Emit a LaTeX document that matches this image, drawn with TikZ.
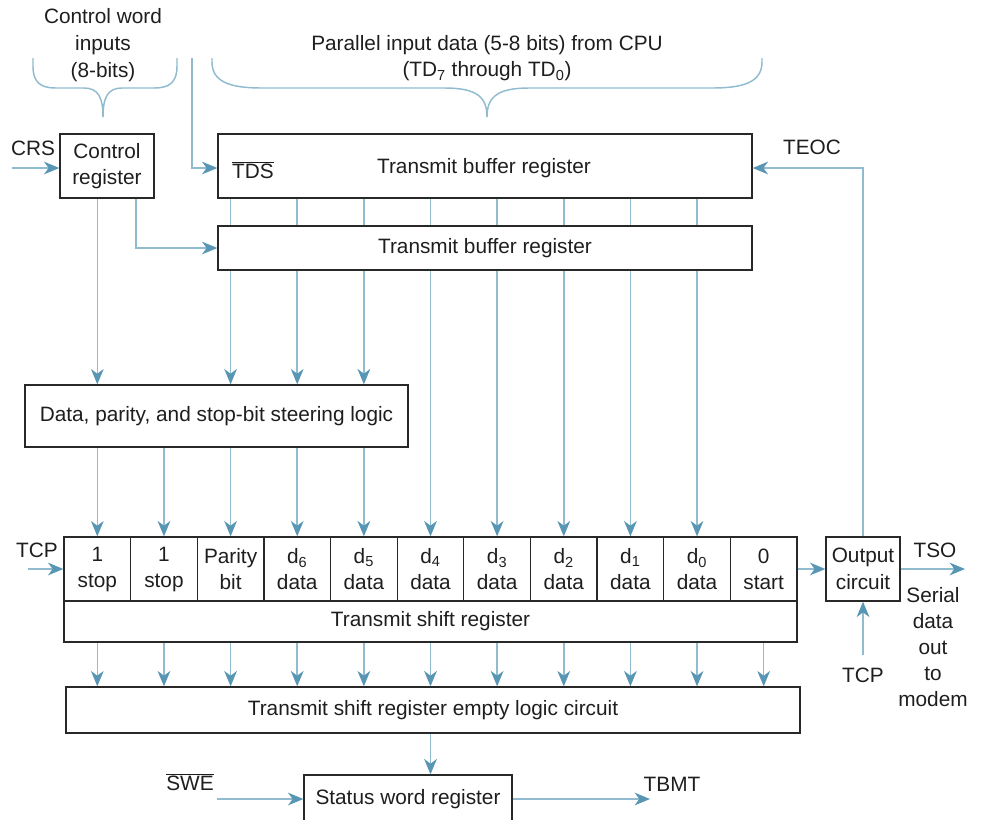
\documentclass[tikz,border=0pt]{standalone}
\usepackage{fontspec}
\setmainfont{Liberation Sans}
\usetikzlibrary{arrows.meta,calc}
\definecolor{linec}{RGB}{145,188,208}
\definecolor{arrc}{RGB}{88,150,180}
\definecolor{boxc}{RGB}{40,40,40}
\definecolor{txtc}{RGB}{30,30,30}
\newcommand\fsz{\fontsize{15.6}{20}\selectfont}
\begin{document}
\begin{tikzpicture}[x=0.75pt,y=-0.75pt,
  every node/.style={font=\fsz, text=txtc, inner sep=0pt, align=center},
  box/.style={draw=boxc, line width=1pt},
  sz/.style 2 args={minimum width=#1*0.75pt, minimum height=#2*0.75pt},
  conn/.style={draw=linec, line width=1.1pt},
  arr/.style={conn, -{Stealth[length=11.5pt,width=9.5pt,inset=3.5pt,color=arrc]}},
  brace/.style={draw=linec, line width=1.1pt}]
\useasboundingbox (0,0) rectangle (981,819);
\clip (0,0) rectangle (981,819);

% ---- boxes
\node[box,sz={94}{64}] (ctrl) at (107,166) {Control\\register};
\node[box,sz={534}{64}] (tb1) at (485,166) {};
\node (tb1t) at (484,168) {Transmit buffer register};
\node (tds) at (253,170) {$\overline{\hbox{TDS}}$};
\node[box,sz={534}{44}] (tb2) at (485,248) {Transmit buffer register};
\node[box,sz={383}{62}] (steer) at (216.5,416) {Data, parity, and stop-bit steering logic};

\foreach \i/\t in {1/{1\\stop},2/{1\\stop},3/{Parity\\bit},4/{d\textsubscript{6}\\data},
  5/{d\textsubscript{5}\\data},6/{d\textsubscript{4}\\data},7/{d\textsubscript{3}\\data},
  8/{d\textsubscript{2}\\data},9/{d\textsubscript{1}\\data},10/{d\textsubscript{0}\\data},11/{0\\start}}
  \node[box,sz={66.64}{64},font=\fontsize{15.6}{19.5}\selectfont] (c\i) at ({64+(\i-0.5)*66.636},569) {\t};
\node[box,sz={733}{41}] (tsr) at (430.5,621.5) {Transmit shift register};
\node[box,sz={74}{64}] (outc) at (863,569) {Output\\circuit};
\node[box,sz={734}{46}] (empty) at (433,710) {Transmit shift register empty logic circuit};
\node[box,sz={208}{48}] (stat) at (408,799) {Status word register};

% ---- labels
\node (cwi) at (103,45) {Control word\\inputs\\(8-bits)};
\node (pid) at (487,58) {Parallel input data (5-8 bits) from CPU\\(TD\textsubscript{7} through TD\textsubscript{0})};
\node (crs) at (33,148) {CRS};
\node (teoc) at (812,147) {TEOC};
\node (tcpl) at (37,550) {TCP};
\node (tso) at (935,550) {TSO};
\node[font=\fontsize{15.6}{19.5}\selectfont] (ser) at (933,647) {Serial\\data\\out\\to\\modem};
\node (tcpb) at (863,675) {TCP};
\node (swe) at (190,782) {$\overline{\hbox{SWE}}$};
\node (tbmt) at (672,784) {TBMT};

% ---- braces
\draw[brace] (33,58) -- (33,66) .. controls (33,82) and (40,88) .. (56,88) -- (84,88)
  .. controls (98,88) and (103,97) .. (103,117);
\draw[brace] (177,58) -- (177,66) .. controls (177,82) and (170,88) .. (154,88) -- (122,88)
  .. controls (108,88) and (103,97) .. (103,117);
\draw[brace] (212,58) -- (212,62) .. controls (212,82) and (230,88) .. (262,88) -- (445,88)
  .. controls (478,88) and (487,98) .. (487,117);
\draw[brace] (762,58) -- (762,62) .. controls (762,82) and (744,88) .. (712,88) -- (529,88)
  .. controls (496,88) and (487,98) .. (487,117);

% ---- coordinates for free ends
\coordinate (cwl) at (192,58);
\coordinate (crsin) at (12,168);
\coordinate (ctx) at (136,0);
\coordinate (tcpin) at (28,569);
\coordinate (tsoout) at (965,569);
\coordinate (tcpstart) at (863,655);
\coordinate (swein) at (217,799);
\coordinate (tbmtout) at (650,799);

% ---- connectors
\draw[arr] (crsin) -- (crsin -| ctrl.west);
\draw[arr] (cwl) |- ($(tb1.west)+(0,2)$);
\draw[arr] (ctrl.south -| c1) -- (steer.north -| c1);
\draw[arr] (ctrl.south -| ctx) |- (tb2.west);
\foreach \i in {3,...,10} \draw[conn] (tb1.south -| c\i) -- (tb2.north -| c\i);
\foreach \i in {3,4,5} \draw[arr] (tb2.south -| c\i) -- (steer.north -| c\i);
\foreach \i in {6,...,10} \draw[arr] (tb2.south -| c\i) -- (c\i.north);
\foreach \i in {1,...,5} \draw[arr] (steer.south -| c\i) -- (c\i.north);
\foreach \i in {1,...,11} \draw[arr] (tsr.south -| c\i) -- (empty.north -| c\i);
\draw[arr] (empty.south -| c6) -- (stat.north -| c6);
\draw[arr] (tcpin) -- (c1.west);
\draw[arr] (c11.east) -- (outc.west);
\draw[arr] (outc.east) -- (tsoout);
\draw[arr] (tcpstart) -- (outc.south);
\draw[arr] (outc.north) |- ($(tb1.east)+(0,2)$);
\draw[arr] (swein) -- (stat.west);
\draw[arr] (stat.east) -- (tbmtout);
\end{tikzpicture}
\end{document}
